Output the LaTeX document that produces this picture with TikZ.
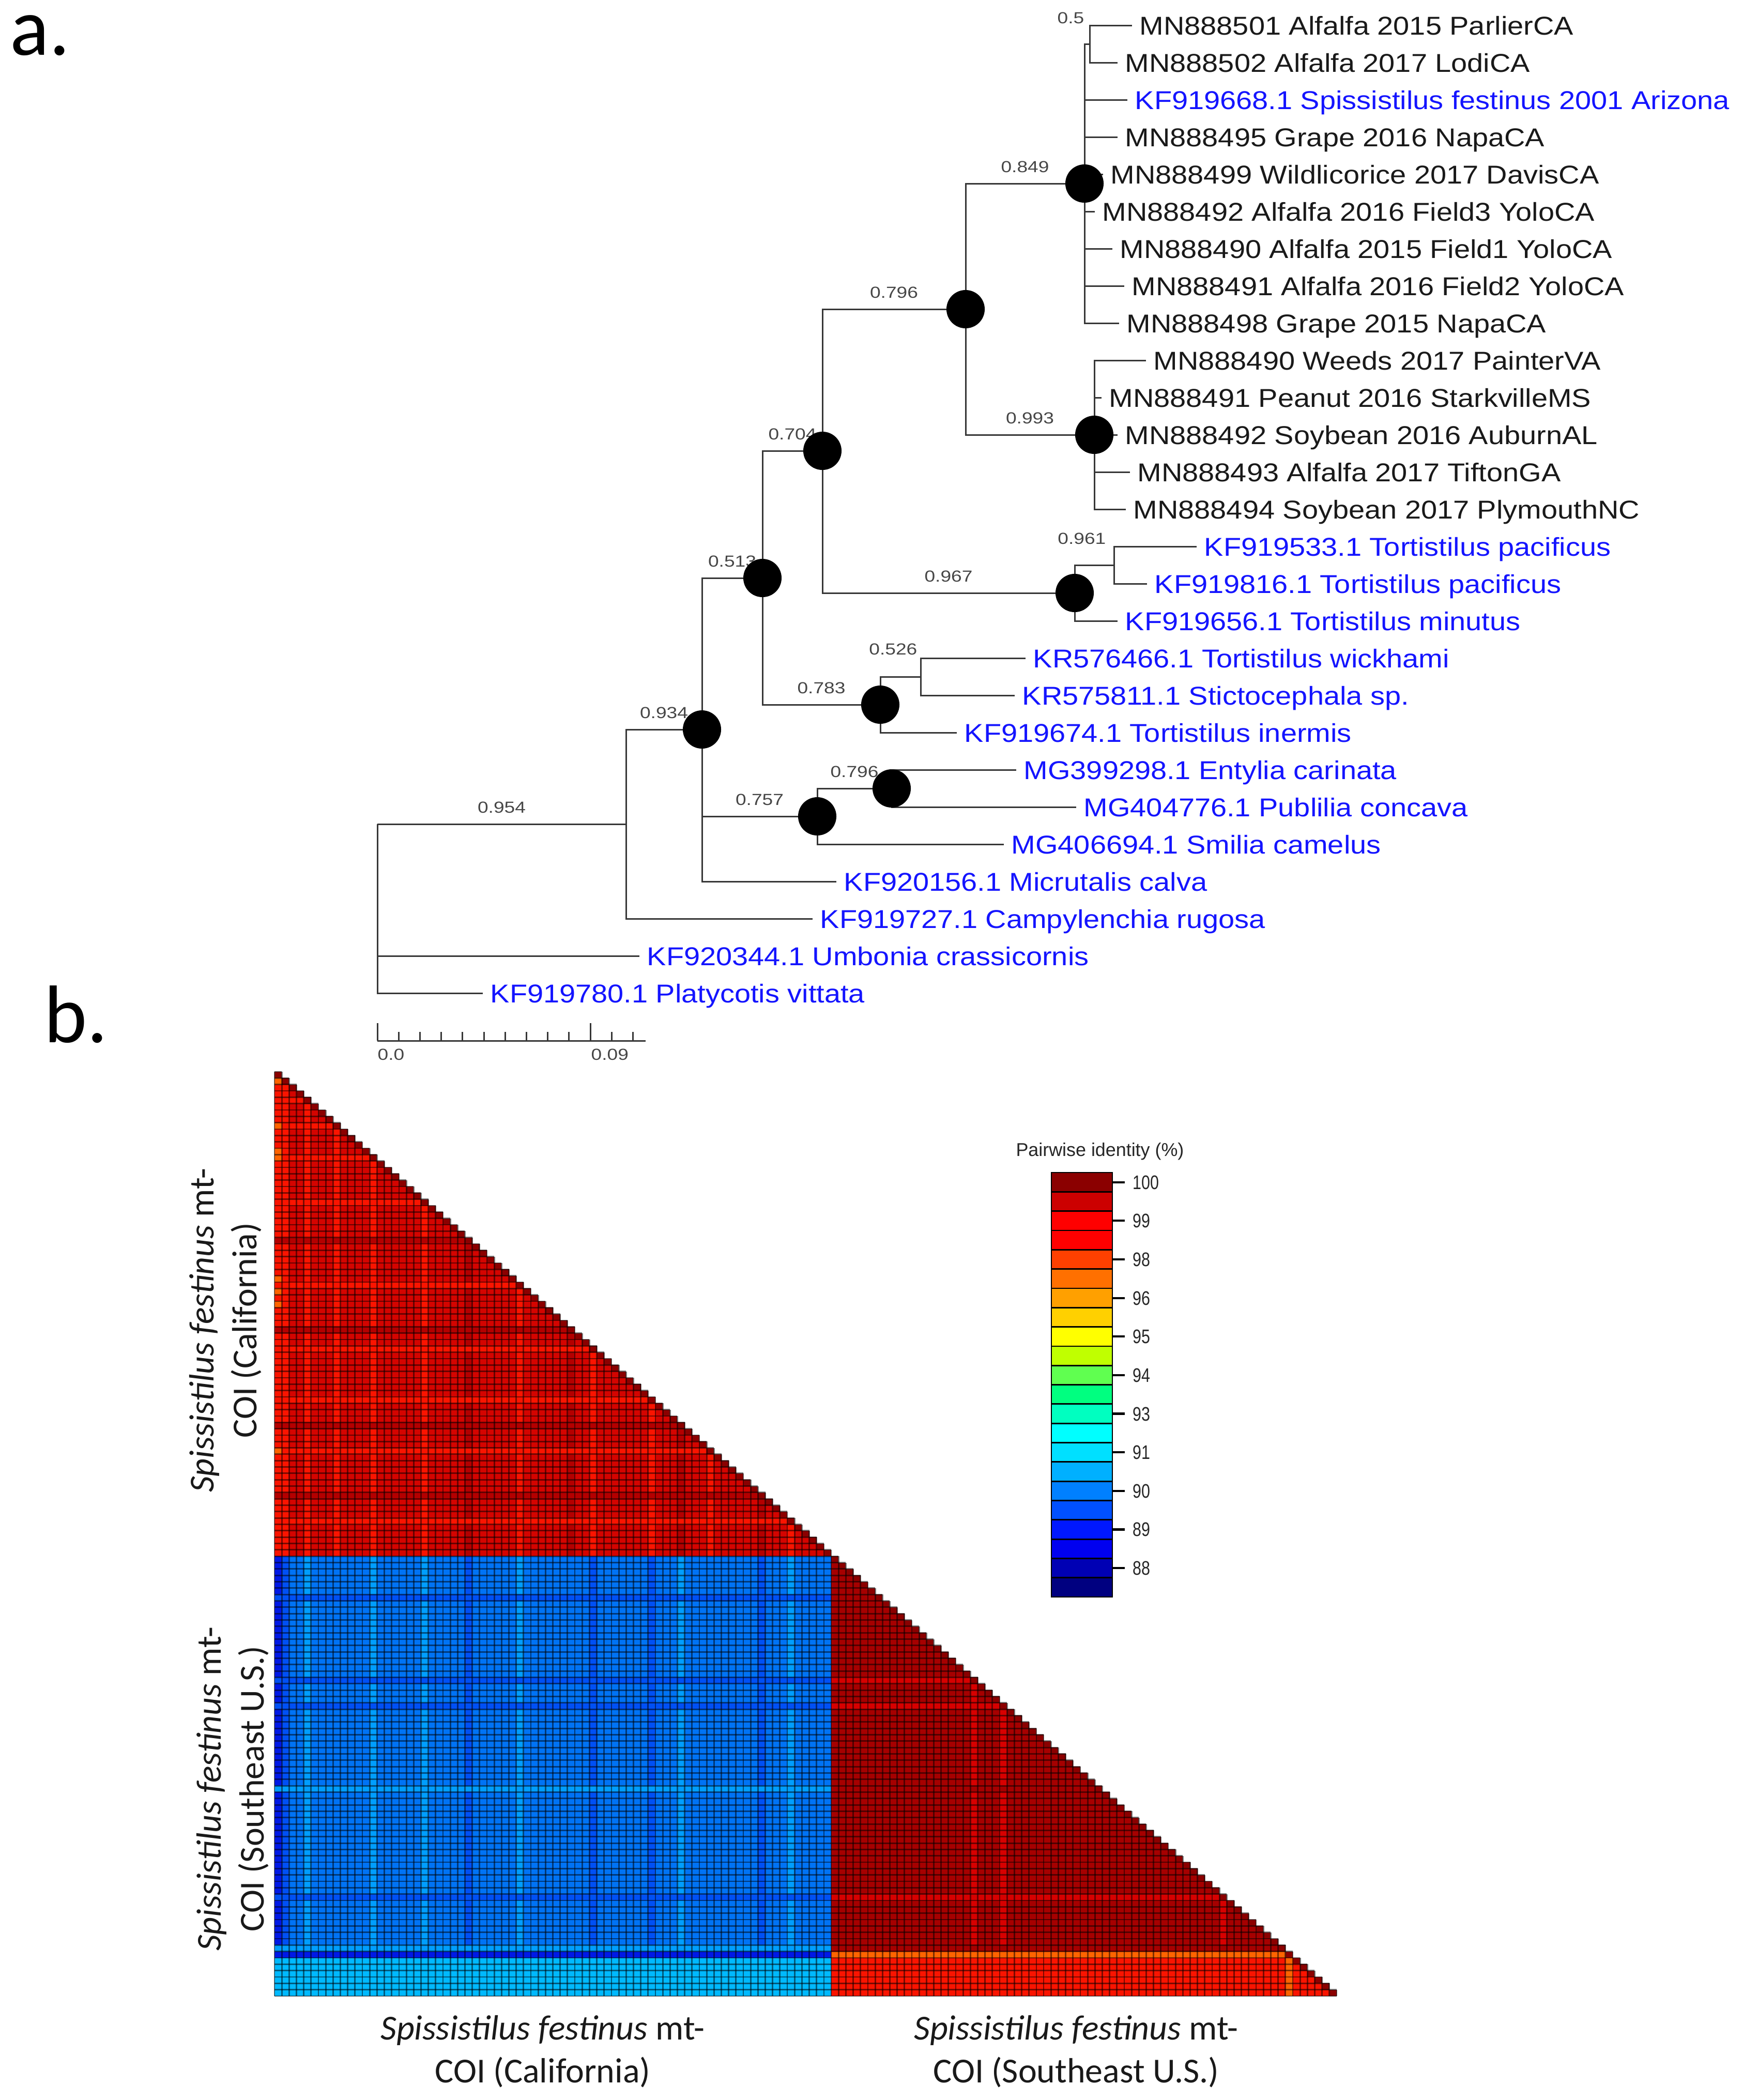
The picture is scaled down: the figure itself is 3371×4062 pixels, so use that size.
\documentclass[tikz,border=0pt]{standalone}
\usepackage{fontspec}
\setmainfont{Liberation Sans}
\newfontfamily\leaffont[FakeStretch=1.12]{Liberation Sans}
\newfontfamily\supfont[FakeStretch=1.2]{Liberation Sans}
\newfontfamily\keyfont[FakeStretch=0.8]{Liberation Sans}
\newfontfamily\calfont{Carlito}

\definecolor{hmdk}{RGB}{139,0,0}
\definecolor{hmmd}{RGB}{180,0,0}
\definecolor{hmbase}{RGB}{212,4,0}
\definecolor{hmlt}{RGB}{250,20,0}
\definecolor{hmor}{RGB}{255,100,0}
\definecolor{sebase}{RGB}{166,0,0}
\definecolor{selt}{RGB}{215,0,0}
\definecolor{hbvd}{RGB}{0,25,230}
\definecolor{hbdk}{RGB}{0,80,245}
\definecolor{hbbase}{RGB}{0,115,245}
\definecolor{hblt}{RGB}{0,158,255}
\definecolor{hbcy}{RGB}{0,185,255}
\definecolor{leafblue}{RGB}{20,20,255}
\definecolor{treegray}{RGB}{55,55,55}
\definecolor{suplabel}{RGB}{70,70,70}

\newcommand{\hmx}{531}
\newcommand{\hmy}{2073}
\newcommand{\hmw}{14.172}
\newcommand{\hmh}{12.331}

\newcommand{\caseq}[3]{
\fill[fill=#2] ({\hmx},{\hmy+#1*\hmh}) rectangle ({\hmx+#1*\hmw},{\hmy+(#1+1)*\hmh});
\fill[fill=#2] ({\hmx+#1*\hmw},{\hmy+(#1+1)*\hmh}) rectangle ({\hmx+(#1+1)*\hmw},{\hmy+76*\hmh});
\fill[fill=#3] ({\hmx+#1*\hmw},{\hmy+76*\hmh}) rectangle ({\hmx+(#1+1)*\hmw},{\hmy+145*\hmh});
}
\newcommand{\seseq}[3]{
\fill[fill=#2] ({\hmx},{\hmy+#1*\hmh}) rectangle ({\hmx+76*\hmw},{\hmy+(#1+1)*\hmh});
\fill[fill=#3] ({\hmx+76*\hmw},{\hmy+#1*\hmh}) rectangle ({\hmx+#1*\hmw},{\hmy+(#1+1)*\hmh});
\fill[fill=#3] ({\hmx+#1*\hmw},{\hmy+(#1+1)*\hmh}) rectangle ({\hmx+(#1+1)*\hmw},{\hmy+145*\hmh});
}

\tikzset{
  branch/.style={treegray, line width=0.85pt},
  bigdot/.style={circle, fill=black, inner sep=0pt, minimum size=0.74cm},
  leafk/.style={anchor=west, inner xsep=0.14cm, inner ysep=0pt, text height=0.36cm, text depth=0pt, font=\leaffont\fontsize{14.2}{17}\selectfont, text=black!90},
  leafb/.style={leafk, text=leafblue},
  suplab/.style={above=0.2cm, inner sep=0pt, text height=0.22cm, text depth=0pt, font=\supfont\fontsize{8.8}{10}\selectfont, text=suplabel},
  suplabe/.style={suplab, above=0cm, anchor=east},
  scalelab/.style={anchor=west, inner sep=0pt, text height=0.22cm, text depth=0pt, font=\supfont\fontsize{8.8}{10}\selectfont, text=suplabel},
  panel/.style={anchor=base west, inner sep=0pt, font=\calfont\fontsize{45}{54}\selectfont},
  axlab/.style={align=center, inner sep=0pt, font=\calfont\fontsize{19.3}{23.6}\selectfont, text=black!90},
  hmgrid/.style={black, opacity=0.5, line width=0.8pt},
  keytitle/.style={inner sep=0pt, font=\fontsize{10.2}{12}\selectfont, text=black!85},
  keynum/.style={anchor=west, inner sep=0pt, text height=0.27cm, text depth=0pt, font=\keyfont\fontsize{10.8}{12}\selectfont, text=black!85},
  keytick/.style={black, line width=1.2pt}
}

\begin{document}
\begin{tikzpicture}[x=0.01cm, y=-0.01cm]

\path[use as bounding box, fill=white] (0,0) rectangle (3371,4062);

\node[panel] (pa) at (19,106) {a.};
\node[panel] (pb) at (85,2016) {b.};

\coordinate (root) at (730,1594);
\coordinate (p10) at (1211,1594);
\coordinate (p8) at (1358,1411);
\coordinate (p6) at (1475,1118);
\coordinate (p4) at (1591,872);
\coordinate (p2) at (1868,598);
\coordinate (p1) at (2098,355);
\coordinate (n05) at (2108,85);
\coordinate (p3) at (2117,841);
\coordinate (p5) at (2079,1147);
\coordinate (n0961) at (2155,1093);
\coordinate (p7) at (1703,1363);
\coordinate (n0526) at (1781,1309);
\coordinate (p9) at (1581,1579);
\coordinate (p9a) at (1725,1525);

\node[leafk] (l1) at (2190,49) {MN888501 Alfalfa 2015 ParlierCA};
\node[leafk] (l2) at (2162,121) {MN888502 Alfalfa 2017 LodiCA};
\node[leafb] (l3) at (2181,193) {KF919668.1 Spissistilus festinus 2001 Arizona};
\node[leafk] (l4) at (2162,265) {MN888495 Grape 2016 NapaCA};
\node[leafk] (l5) at (2134,337) {MN888499 Wildlicorice 2017 DavisCA};
\node[leafk] (l6) at (2118,409) {MN888492 Alfalfa 2016 Field3 YoloCA};
\node[leafk] (l7) at (2152,481) {MN888490 Alfalfa 2015 Field1 YoloCA};
\node[leafk] (l8) at (2175,553) {MN888491 Alfalfa 2016 Field2 YoloCA};
\node[leafk] (l9) at (2165,625) {MN888498 Grape 2015 NapaCA};
\node[leafk] (l10) at (2217,697) {MN888490 Weeds 2017 PainterVA};
\node[leafk] (l11) at (2131,769) {MN888491 Peanut 2016 StarkvilleMS};
\node[leafk] (l12) at (2162,841) {MN888492 Soybean 2016 AuburnAL};
\node[leafk] (l13) at (2186,913) {MN888493 Alfalfa 2017 TiftonGA};
\node[leafk] (l14) at (2178,985) {MN888494 Soybean 2017 PlymouthNC};
\node[leafb] (l15) at (2315,1057) {KF919533.1 Tortistilus pacificus};
\node[leafb] (l16) at (2219,1129) {KF919816.1 Tortistilus pacificus};
\node[leafb] (l17) at (2162,1201) {KF919656.1 Tortistilus minutus};
\node[leafb] (l18) at (1984,1273) {KR576466.1 Tortistilus wickhami};
\node[leafb] (l19) at (1963,1345) {KR575811.1 Stictocephala sp.};
\node[leafb] (l20) at (1851,1417) {KF919674.1 Tortistilus inermis};
\node[leafb] (l21) at (1966,1489) {MG399298.1 Entylia carinata};
\node[leafb] (l22) at (2082,1561) {MG404776.1 Publilia concava};
\node[leafb] (l23) at (1942,1633) {MG406694.1 Smilia camelus};
\node[leafb] (l24) at (1618,1705) {KF920156.1 Micrutalis calva};
\node[leafb] (l25) at (1572,1777) {KF919727.1 Campylenchia rugosa};
\node[leafb] (l26) at (1237,1849) {KF920344.1 Umbonia crassicornis};
\node[leafb] (l27) at (934,1921) {KF919780.1 Platycotis vittata};

\draw[branch] (p1) |- (n05);
\draw[branch] (n05) |- (l1.west);
\draw[branch] (n05) |- (l2.west);
\foreach \l in {l3,l4,l5,l6,l7,l8,l9} \draw[branch] (p1) |- (\l.west);
\draw[branch] (p2) |- (p1) node[suplab, pos=0.75] {0.849};
\draw[branch] (p2) |- (p3) node[suplab, pos=0.75] {0.993};
\foreach \l in {l10,l11,l12,l13,l14} \draw[branch] (p3) |- (\l.west);
\draw[branch] (p4) |- (p2) node[suplab, pos=0.75] {0.796};
\draw[branch] (p4) |- (p5) node[suplab, pos=0.75] {0.967};
\draw[branch] (p5) |- (n0961);
\draw[branch] (n0961) |- (l15.west);
\draw[branch] (n0961) |- (l16.west);
\draw[branch] (p5) |- (l17.west);
\draw[branch] (p6) |- (p4) node[suplab, pos=0.75] {0.704};
\draw[branch] (p6) |- (p7) node[suplab, pos=0.75] {0.783};
\draw[branch] (p7) |- (n0526);
\draw[branch] (n0526) |- (l18.west);
\draw[branch] (n0526) |- (l19.west);
\draw[branch] (p7) |- (l20.west);
\draw[branch] (p8) |- (p6) node[suplab, pos=0.75] {0.513};
\draw[branch] (p8) |- (p9) node[suplab, pos=0.75] {0.757};
\draw[branch] (p8) |- (l24.west);
\draw[branch] (p9) |- (p9a) node[suplab, pos=0.75] {0.796};
\draw[branch] (p9a) |- (l21.west);
\draw[branch] (p9a) |- (l22.west);
\draw[branch] (p9) |- (l23.west);
\draw[branch] (p10) |- (p8) node[suplab, pos=0.75] {0.934};
\draw[branch] (p10) |- (l25.west);
\draw[branch] (root) |- (p10) node[suplab, pos=0.75] {0.954};
\draw[branch] (root) |- (l26.west);
\draw[branch] (root) |- (l27.west);

\node[suplabe] (s05) at (2098,54) {0.5};
\node[suplabe] (s0961) at (2140,1061) {0.961};
\node[suplabe] (s0526) at (1775,1275) {0.526};

\foreach \p in {p1,p2,p3,p4,p5,p6,p7,p8,p9,p9a} \node[bigdot] (d\p) at (\p) {};

\coordinate (s0) at (730,2013);
\coordinate (s1) at (1249,2013);
\draw[branch] (s0) -- (s1);
\foreach \k in {0,...,12} \draw[branch] ({730+41.2*\k},2013) -- ++(0,-17);
\foreach \k in {0,10} \draw[branch] ({730+41.2*\k},2013) -- ++(0,-34);
\node[scalelab] (sl0) at (730,2039) {0.0};
\node[scalelab] (sl1) at (1143,2039) {0.09};

\foreach \i in {0,...,75} \fill[hmbase] ({\hmx},{\hmy+\i*\hmh}) rectangle ({\hmx+(\i+1)*\hmw},{\hmy+(\i+1)*\hmh});
\fill[hbbase] ({\hmx},{\hmy+76*\hmh}) rectangle ({\hmx+76*\hmw},{\hmy+145*\hmh});
\foreach \i in {76,...,144} \fill[sebase] ({\hmx+76*\hmw},{\hmy+\i*\hmh}) rectangle ({\hmx+(\i+1)*\hmw},{\hmy+(\i+1)*\hmh});

\foreach \k/\r/\b in {0/hmlt/hbvd, 1/hmlt/hbdk, 4/hmlt/hblt, 8/hmlt/hbbase, 13/hmlt/hblt, 20/hmlt/hblt, 26/hmmd/hbdk, 33/hmlt/hblt, 40/hmmd/hbbase, 43/hmlt/hbdk, 51/hmlt/hbdk, 55/hmmd/hblt, 59/hmlt/hbbase, 66/hmmd/hbdk, 70/hmlt/hblt} \caseq{\k}{\r}{\b};
\foreach \k/\b/\r in {82/hbdk/sebase, 95/hbdk/selt, 99/hbdk/selt, 112/hblt/sebase, 129/hbdk/selt, 137/hblt/sebase, 139/hbcy/hmlt, 140/hbcy/hmlt, 141/hbcy/hmlt, 142/hbcy/hmlt, 143/hbcy/hmlt, 144/hbcy/hmlt, 138/hbvd/hmor} \seseq{\k}{\b}{\r};
\foreach \i in {1,8,12,13,32,34,36,59} \fill[hmor] ({\hmx},{\hmy+\i*\hmh}) rectangle +(\hmw,\hmh);

\foreach \i in {0,...,144} \fill[hmdk] ({\hmx+\i*\hmw},{\hmy+\i*\hmh}) rectangle +(\hmw,\hmh);

\foreach \i in {0,...,144} \draw[hmgrid] ({\hmx},{\hmy+\i*\hmh}) -- ({\hmx+(\i+1)*\hmw},{\hmy+\i*\hmh});
\draw[hmgrid] ({\hmx},{\hmy+145*\hmh}) -- ({\hmx+145*\hmw},{\hmy+145*\hmh});
\draw[hmgrid] ({\hmx},{\hmy}) -- ({\hmx},{\hmy+145*\hmh});
\foreach \j in {1,...,145} \draw[hmgrid] ({\hmx+\j*\hmw},{\hmy+(\j-1)*\hmh}) -- ({\hmx+\j*\hmw},{\hmy+145*\hmh});

\node[axlab] (xca) at (1050,3968) {\textit{Spissistilus festinus} mt-\\COI (California)};
\node[axlab] (xse) at (2082,3968) {\textit{Spissistilus festinus} mt-\\COI (Southeast U.S.)};
\node[axlab, rotate=90] (yca) at (436,2573) {\textit{Spissistilus festinus} mt-\\COI (California)};
\node[axlab, rotate=90] (yse) at (450,3460) {\textit{Spissistilus festinus} mt-\\COI (Southeast U.S.)};

\node[keytitle] (ktitle) at (2128,2227) {Pairwise identity (\%)};
\foreach \r/\g/\b [count=\n from 0] in {139/0/0, 204/0/0, 255/0/0, 255/0/0, 255/64/0, 255/112/0, 255/160/0, 255/208/0, 255/255/0, 192/255/0, 96/255/80, 0/255/128, 0/255/192, 0/255/255, 0/224/255, 0/176/255, 0/128/255, 0/80/255, 0/24/255, 0/0/240, 0/0/180, 0/0/128}
  \filldraw[fill={rgb,255:red,\r;green,\g;blue,\b}, draw=black, line width=0.8pt] (2034,{2268+\n*37.32}) rectangle (2152,{2268+(\n+1)*37.32});
\foreach \v [count=\m from 0] in {100,99,98,96,95,94,93,91,90,89,88} {
  \draw[keytick] (2152,{2268+(2*\m+0.5)*37.32}) -- ++(24,0);
  \node[keynum] (k\v) at (2191,{2268+(2*\m+0.5)*37.32}) {\v};
}

\end{tikzpicture}
\end{document}
